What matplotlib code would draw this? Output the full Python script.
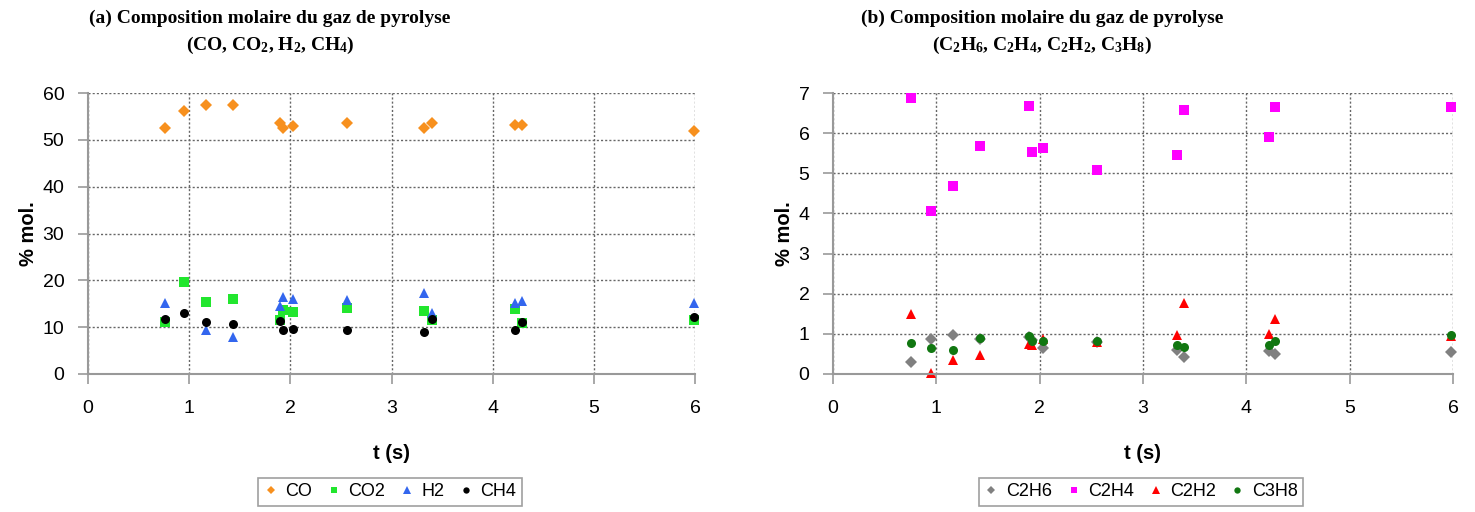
import matplotlib
matplotlib.use("Agg")
import matplotlib.pyplot as plt
import numpy as np

plt.rcParams['font.family'] = ['Liberation Sans', 'DejaVu Sans']
plt.rcParams['mathtext.fontset'] = 'custom'
plt.rcParams['mathtext.rm'] = 'Liberation Serif:bold'
plt.rcParams['mathtext.it'] = 'Liberation Serif:bold'
plt.rcParams['mathtext.bf'] = 'Liberation Serif:bold'
plt.rcParams['mathtext.default'] = 'rm'

# panel (a) : CO, CO2, H2, CH4
t_a = [0.76, 0.95, 1.17, 1.43, 1.90, 1.93, 2.03, 2.56, 3.32, 3.40, 4.22, 4.29, 5.99]
co = [52.5, 56.2, 57.4, 57.4, 53.6, 52.5, 53.0, 53.6, 52.5, 53.7, 53.2, 53.2, 51.9]
co2 = [11.2, 19.6, 15.3, 16.1, 11.5, 13.7, 13.3, 14.0, 13.5, 11.5, 13.9, 10.8, 11.5]
h2 = [15.2, np.nan, 9.4, 7.8, 14.6, 16.4, 16.0, 15.7, 17.2, 13.1, 15.1, 15.6, 15.2]
ch4 = [11.7, 13.1, 11.2, 10.7, 11.4, 9.4, 9.6, 9.4, 9.0, 11.7, 9.5, 11.2, 12.1]

# panel (b) : C2H6, C2H4, C2H2, C3H8
t_b = [0.75, 0.95, 1.16, 1.42, 1.90, 1.93, 2.03, 2.55, 3.33, 3.40, 4.22, 4.28, 5.98]
c2h6 = [0.29, 0.86, 0.98, 0.88, 0.92, 0.85, 0.64, 0.80, 0.60, 0.42, 0.58, 0.50, 0.56]
c2h4 = [6.87, 4.05, 4.68, 5.67, 6.68, 5.53, 5.62, 5.09, 5.45, 6.58, 5.91, 6.64, 6.64]
c2h2 = [1.50, 0.02, 0.36, 0.48, 0.75, 0.73, 0.88, 0.80, 0.98, 1.78, 1.00, 1.37, 0.95]
c3h8 = [0.78, 0.65, 0.61, 0.89, 0.94, 0.83, 0.82, 0.82, 0.72, 0.68, 0.71, 0.83, 0.97]

fig = plt.figure(figsize=(14.75, 5.12), dpi=100)
W, H = 1475, 512

ax1 = fig.add_axes([88 / W, 1 - 374 / H, (695 - 88) / W, (374 - 93) / H])
ax2 = fig.add_axes([833 / W, 1 - 374 / H, (1453 - 833) / W, (374 - 93) / H])


def style(ax, ymax, ystep):
    ax.set_xlim(0, 6)
    ax.set_ylim(0, ymax)
    ax.set_xticks(range(0, 7))
    ax.set_yticks(np.arange(0, ymax + 0.01, ystep))
    ax.grid(True, linestyle=(0, (1.5, 1.5)), color='#666666', linewidth=1)
    ax.set_axisbelow(True)
    for s in ['top', 'right']:
        ax.spines[s].set_visible(False)
    for s in ['left', 'bottom']:
        ax.spines[s].set_color('#999999')
        ax.spines[s].set_linewidth(1.5)
    ax.tick_params(axis='x', length=7, width=1.2, color='#999999', pad=12, labelsize=14)
    ax.tick_params(axis='y', length=7, width=1.2, color='#999999', pad=10, labelsize=14)
    ax.set_xlabel('t (s)', fontsize=14.5, fontweight='bold', labelpad=19)
    ax.set_ylabel('% mol.', fontsize=14.5, fontweight='bold', labelpad=3)


style(ax1, 60, 10)
style(ax2, 7, 1)

kw = dict(linestyle='none', clip_on=False, markeredgewidth=0)
ax1.plot(t_a, co, marker='D', ms=6.5, color='#F7901E', label='CO', **kw)
ax1.plot(t_a, co2, marker='s', ms=6.5, color='#22E62E', label='CO2', **kw)
ax1.plot(t_a, h2, marker='^', ms=7.5, color='#3366EE', label='H2', **kw)
ax1.plot(t_a, ch4, marker='o', ms=6.5, color='#000000', label='CH4', **kw)

ax2.plot(t_b, c2h6, marker='D', ms=6, color='#808080', label='C2H6', **kw)
ax2.plot(t_b, c2h4, marker='s', ms=6.5, color='#FF00FF', label='C2H4', **kw)
ax2.plot(t_b, c2h2, marker='^', ms=7.5, color='#FF0000', label='C2H2', **kw)
ax2.plot(t_b, c3h8, marker='o', ms=6.5, color='#117711', label='C3H8', **kw)

for ax, xc in [(ax1, 390), (ax2, 1141)]:
    leg = ax.legend(loc='center', bbox_to_anchor=(xc / W, 1 - 492 / H),
                    bbox_transform=fig.transFigure, ncol=4, fontsize=13,
                    frameon=True, fancybox=False, edgecolor='#888888',
                    markerscale=0.7, handlelength=0.8, handletextpad=0.4,
                    columnspacing=0.8, borderpad=0.3, borderaxespad=0)
    leg.get_frame().set_linewidth(1.2)

title_kw = dict(ha='center', va='center', fontsize=14, fontweight='bold',
                family='Liberation Serif')
fig.text(270 / W, 1 - 18 / H, '(a) Composition molaire du gaz de pyrolyse', **title_kw)
fig.text(270 / W, 1 - 45 / H, r'(CO, CO$_2$, H$_2$, CH$_4$)', **title_kw)
fig.text(1042 / W, 1 - 18 / H, '(b) Composition molaire du gaz de pyrolyse', **title_kw)
fig.text(1042 / W, 1 - 45 / H, r'(C$_2$H$_6$, C$_2$H$_4$, C$_2$H$_2$, C$_3$H$_8$)', **title_kw)

fig.savefig('out.png', dpi=100)
